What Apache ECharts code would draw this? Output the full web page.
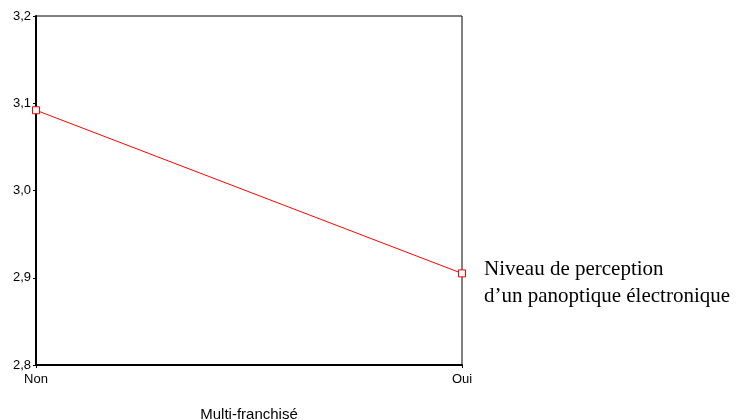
<!DOCTYPE html>
<html><head><meta charset="utf-8">
<script src="https://cdn.jsdelivr.net/npm/echarts@6/dist/echarts.min.js"></script>
<style>html,body{margin:0;padding:0;background:#fff}#c{width:736px;height:420px}</style>
</head><body><div id="c"></div>
<script>
const categories = ['Non', 'Oui'];
const values = [3.092, 2.905];
const seriesName = 'Niveau de perception\nd\u2019un panoptique électronique';
const xTitle = 'Multi-franchisé';
const yMin = 2.8, yMax = 3.2, yStep = 0.1;

const chart = echarts.init(document.getElementById('c'), null, {renderer: 'canvas'});
chart.setOption({
  animation: false,
  grid: {left: 36, right: 274, top: 16, bottom: 55, show: true, borderColor: '#000', borderWidth: 1,
    containLabel: false, outerBoundsMode: 'none'},
  legend: {
    show: true, left: 474, top: 251, icon: 'none', itemWidth: 0, itemGap: 0,
    textStyle: {fontFamily: 'Liberation Serif', fontSize: 21, color: '#000', lineHeight: 27}
  },
  xAxis: {
    type: 'category', data: categories, boundaryGap: false,
    name: xTitle, nameLocation: 'middle', nameGap: 42,
    nameTextStyle: {fontFamily: 'Liberation Sans', fontSize: 15, color: '#000'},
    axisLine: {lineStyle: {color: '#000', width: 2}},
    axisTick: {show: true, length: 3, lineStyle: {color: '#000'}},
    axisLabel: {fontFamily: 'Liberation Sans', fontSize: 13, color: '#000', margin: 8}
  },
  yAxis: {
    type: 'value', min: yMin, max: yMax, interval: yStep,
    axisLine: {show: true, lineStyle: {color: '#000', width: 2}},
    axisTick: {show: true, length: 3, lineStyle: {color: '#000'}},
    splitLine: {show: false},
    axisLabel: {fontFamily: 'Liberation Sans', fontSize: 13, color: '#000', margin: 5,
      formatter: v => v.toFixed(1).replace('.', ',')}
  },
  series: [{
    name: seriesName, type: 'line', data: values,
    symbol: 'rect', symbolSize: 7, showSymbol: true,
    lineStyle: {color: '#ff0000', width: 1},
    itemStyle: {color: '#fff', borderColor: '#ff0000', borderWidth: 1}
  }]
});
</script></body></html>
